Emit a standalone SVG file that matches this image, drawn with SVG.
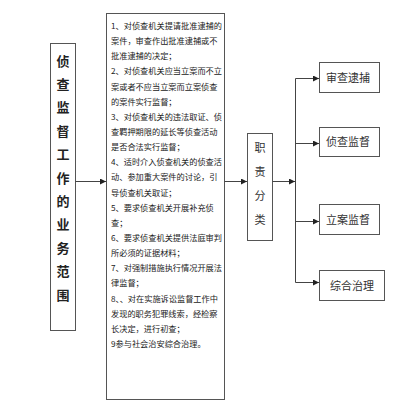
<svg xmlns="http://www.w3.org/2000/svg" width="416" height="404" viewBox="0 0 416 404">
<defs>
<marker id="ah" markerUnits="userSpaceOnUse" markerWidth="6" markerHeight="6" refX="6" refY="3" orient="auto">
<path d="M0,0 L6,3 L0,6 z" fill="#222"/>
</marker>
<style>
.box{fill:#fff;stroke:#555;stroke-width:1}
.c{fill:none;stroke:#444;stroke-width:1}
.big{font-family:"Noto Sans CJK SC","Noto Sans CJK JP",sans-serif;font-size:13px;font-weight:bold;fill:#222;text-anchor:middle}
.mid{font-family:"Noto Sans CJK SC","Noto Sans CJK JP",sans-serif;font-size:8.2px;fill:#222}
.lbl{font-family:"Noto Sans CJK SC","Noto Sans CJK JP",sans-serif;font-size:11px;fill:#333;text-anchor:middle}
</style>
</defs>
<rect width="416" height="404" fill="#fff"/>
<g id="scope">
<rect class="box" x="50.5" y="43.5" width="25" height="287"/>
<text class="big" x="63" y="65.6">侦</text>
<text class="big" x="63" y="89">查</text>
<text class="big" x="63" y="112.4">监</text>
<text class="big" x="63" y="135.8">督</text>
<text class="big" x="63" y="159.2">工</text>
<text class="big" x="63" y="182.6">作</text>
<text class="big" x="63" y="206">的</text>
<text class="big" x="63" y="229.4">业</text>
<text class="big" x="63" y="252.8">务</text>
<text class="big" x="63" y="276.2">范</text>
<text class="big" x="63" y="299.6">围</text>
</g>
<g id="duties">
<rect class="box" x="106.5" y="13.5" width="118" height="386"/>
<text class="mid" x="111" y="29">1、对侦查机关提请批准逮捕的</text>
<text class="mid" x="111" y="44.1">案件，审查作出批准逮捕或不</text>
<text class="mid" x="111" y="59.3">批准逮捕的决定；</text>
<text class="mid" x="111" y="74.4">2、对侦查机关应当立案而不立</text>
<text class="mid" x="111" y="89.6">案或者不应当立案而立案侦查</text>
<text class="mid" x="111" y="104.7">的案件实行监督；</text>
<text class="mid" x="111" y="119.8">3、对侦查机关的违法取证、侦</text>
<text class="mid" x="111" y="135">查羁押期限的延长等侦查活动</text>
<text class="mid" x="111" y="150.1">是否合法实行监督；</text>
<text class="mid" x="111" y="165.3">4、适时介入侦查机关的侦查活</text>
<text class="mid" x="111" y="180.4">动、参加重大案件的讨论，引</text>
<text class="mid" x="111" y="195.5">导侦查机关取证；</text>
<text class="mid" x="111" y="210.7">5、要求侦查机关开展补充侦</text>
<text class="mid" x="111" y="225.8">查；</text>
<text class="mid" x="111" y="241">6、要求侦查机关提供法庭审判</text>
<text class="mid" x="111" y="256.1">所必须的证据材料；</text>
<text class="mid" x="111" y="271.2">7、对强制措施执行情况开展法</text>
<text class="mid" x="111" y="286.4">律监督；</text>
<text class="mid" x="111" y="301.5">8、、对在实施诉讼监督工作中</text>
<text class="mid" x="111" y="316.7">发现的职务犯罪线索，经检察</text>
<text class="mid" x="111" y="331.8">长决定，进行初查；</text>
<text class="mid" x="111" y="347">9参与社会治安综合治理。</text>
</g>
<g id="category">
<rect class="box" x="247.5" y="133.5" width="25" height="107"/>
<text class="lbl" x="260" y="152">职</text>
<text class="lbl" x="260" y="176">责</text>
<text class="lbl" x="260" y="200">分</text>
<text class="lbl" x="260" y="224">类</text>
</g>
<g id="arrest">
<rect class="box" x="319.5" y="62.5" width="60" height="30"/>
<text class="lbl" x="348" y="81.5">审查逮捕</text>
</g>
<g id="investigation">
<rect class="box" x="319.5" y="127.5" width="60" height="29"/>
<text class="lbl" x="348" y="146">侦查监督</text>
</g>
<g id="filing">
<rect class="box" x="319.5" y="204.5" width="60" height="30"/>
<text class="lbl" x="348" y="223.5">立案监督</text>
</g>
<g id="governance">
<rect class="box" x="319.5" y="270.5" width="65" height="30"/>
<text class="lbl" x="352" y="289.5">综合治理</text>
</g>
<g id="connectors">
<path class="c" d="M75.5,181.5 H106" marker-end="url(#ah)"/>
<path class="c" d="M224.5,181.5 H247" marker-end="url(#ah)"/>
<path class="c" d="M272.5,181.5 H295" marker-end="url(#ah)"/>
<path class="c" d="M295.5,78.5 V282.5"/>
<path class="c" d="M295.5,78.5 H319" marker-end="url(#ah)"/>
<path class="c" d="M295.5,143.5 H319" marker-end="url(#ah)"/>
<path class="c" d="M295.5,221.5 H319" marker-end="url(#ah)"/>
<path class="c" d="M295.5,282.5 H319" marker-end="url(#ah)"/>
</g>
</svg>
